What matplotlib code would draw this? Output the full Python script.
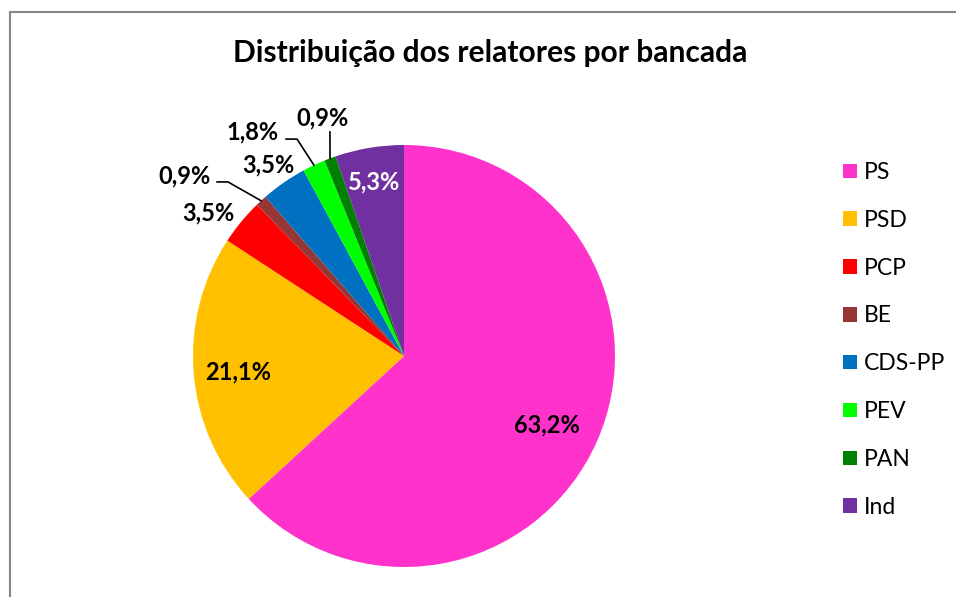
import numpy as np
import matplotlib
matplotlib.use('Agg')
import matplotlib.pyplot as plt
from matplotlib.lines import Line2D

plt.rcParams['font.family'] = ['Lato', 'DejaVu Sans']

# data
parties = ['PS', 'PSD', 'PCP', 'BE', 'CDS-PP', 'PEV', 'PAN', 'Ind']
relatores = [72, 24, 4, 1, 4, 2, 1, 6]
colors = ['#FF33CC', '#FFC000', '#FF0000', '#953735', '#0070C0',
          '#00FF00', '#008000', '#7030A0']

# label placement (axes units, radius = 1)
label_xy = [(0.678, -0.327), (-0.787, -0.076), (-0.929, 0.678),
            (-1.038, 0.853), (-0.645, 0.905), (-0.716, 1.062),
            (-0.384, 1.128), (-0.142, 0.825)]
label_col = ['black'] * 7 + ['white']
# leader lines: elbow, end (None = no leader)
leaders = [None, None, None,
           [(-0.834, 0.825), (-0.886, 0.825)],
           None,
           [(-0.507, 1.028), (-0.559, 1.028)],
           [(-0.351, 1.062)],
           None]

W, H = 956, 597
fig = plt.figure(figsize=(W / 100, H / 100), dpi=100)

cx, cy, r = 404, 356, 211
ax = fig.add_axes([(cx - r) / W, (H - cy - r) / H, 2 * r / W, 2 * r / H])
wedges, _ = ax.pie(relatores, colors=colors, startangle=90, counterclock=False,
                   radius=1, wedgeprops=dict(linewidth=0))
ax.set_xlim(-1, 1)
ax.set_ylim(-1, 1)
ax.set_aspect('equal')
ax.axis('off')

total = sum(relatores)
for i, w in enumerate(wedges):
    pct = 100 * relatores[i] / total
    txt = ('%.1f%%' % pct).replace('.', ',')
    ax.text(label_xy[i][0], label_xy[i][1], txt, ha='center', va='center',
            fontsize=17, fontweight='bold', color=label_col[i], clip_on=False)
    if leaders[i] is not None:
        mid = np.deg2rad((w.theta1 + w.theta2) / 2)
        pts = [(np.cos(mid), np.sin(mid))] + leaders[i]
        xs, ys = zip(*pts)
        ax.plot(xs, ys, color='black', lw=1.2, clip_on=False)

fig.text(490 / W, 1 - 53 / H, 'Distribuição dos relatores por bancada',
         ha='center', va='center', fontsize=21.6, fontweight='bold')

fig.legend(wedges, parties, loc='upper left',
           bbox_to_anchor=(843 / W, 1 - 162 / H), frameon=False,
           fontsize=16.5, handlelength=0.6, handleheight=0.6,
           handletextpad=0.3, labelspacing=1.17, borderpad=0,
           borderaxespad=0)

# chart frame (cut off at right and bottom)
fig.add_artist(Line2D([10 / W, 10 / W], [0, 1 - 12 / H], color='#878787',
                      lw=1.5, transform=fig.transFigure))
fig.add_artist(Line2D([10 / W, 1], [1 - 12 / H, 1 - 12 / H], color='#878787',
                      lw=1.5, transform=fig.transFigure))

fig.savefig('out.png', dpi=100)
